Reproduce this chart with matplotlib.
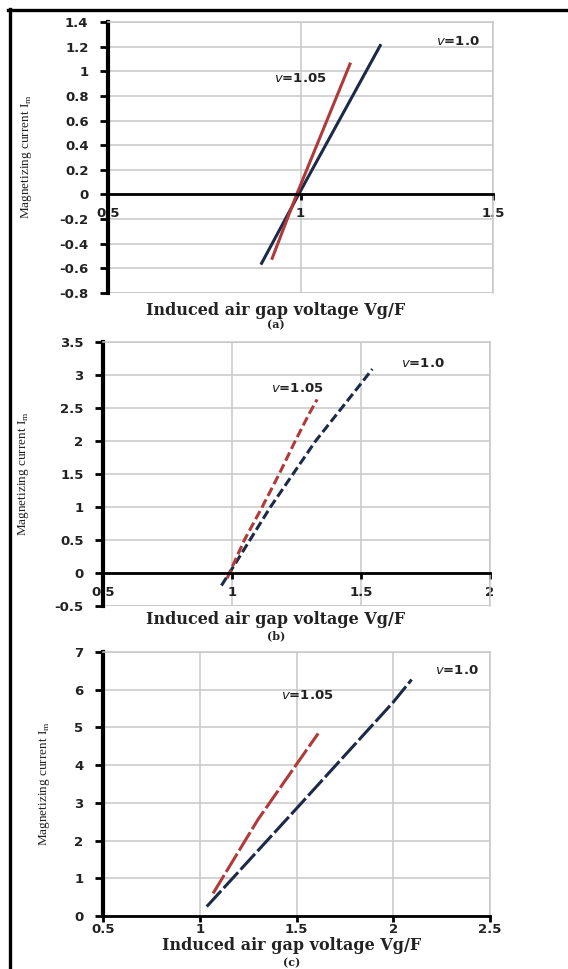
import matplotlib
matplotlib.use("Agg")
import matplotlib.pyplot as plt
from matplotlib.lines import Line2D
from matplotlib.ticker import FuncFormatter

# ---- data ----
# panel (a)
a_x_v100 = [0.897, 0.995, 1.209]
a_y_v100 = [-0.57, 0.00, 1.22]
a_x_v105 = [0.925, 0.990, 1.130]
a_y_v105 = [-0.53, 0.00, 1.07]
# panel (b)
b_x_v100 = [0.959, 0.990, 1.149, 1.324, 1.500, 1.544]
b_y_v100 = [-0.19, 0.00, 1.00, 2.00, 2.87, 3.09]
b_x_v105 = [0.981, 1.048, 1.117, 1.183, 1.245, 1.300, 1.330]
b_y_v105 = [-0.08, 0.50, 1.00, 1.50, 2.00, 2.42, 2.63]
# panel (c)
c_x_v100 = [1.036, 1.500, 2.000, 2.095]
c_y_v100 = [0.25, 2.85, 5.67, 6.27]
c_x_v105 = [1.069, 1.300, 1.497, 1.612]
c_y_v105 = [0.60, 2.55, 4.00, 4.84]

a_xticks = [0.5, 1.0, 1.5]
a_yticks = [-0.8, -0.6, -0.4, -0.2, 0, 0.2, 0.4, 0.6, 0.8, 1.0, 1.2, 1.4]
b_xticks = [0.5, 1.0, 1.5, 2.0]
b_yticks = [-0.5, 0, 0.5, 1.0, 1.5, 2.0, 2.5, 3.0, 3.5]
c_xticks = [0.5, 1.0, 1.5, 2.0, 2.5]
c_yticks = [0, 1, 2, 3, 4, 5, 6, 7]

label_v100 = r"$v$=1.0"
label_v105 = r"$v$=1.05"
xlabel_text = "Induced air gap voltage Vg/F"
ylabel_text = r"Magnetizing current I$_\mathregular{m}$"
panel_tags = ["(a)", "(b)", "(c)"]

BLUE = "#1c2a48"
RED = "#b03a3a"
GRID = "#c8c8c8"
TXT = "#222222"

W, H = 568, 969
fig = plt.figure(figsize=(W / 100, H / 100), dpi=100)

def fx(px):
    return px / W

def fy(py):
    return 1 - py / H

fmt = FuncFormatter(lambda v, p: "%g" % v)

panels = [
    dict(rect=(108, 22, 493, 293), xt=a_xticks, yt=a_yticks,
         s1=(a_x_v100, a_y_v100), s2=(a_x_v105, a_y_v105), ls="-",
         lab1=(1.41, 1.24), lab2=(0.999, 0.94), xpad=5,
         xl_y=310, tag_y=325, xl_x=276, yl=(27, 157)),
    dict(rect=(103, 342, 490, 606), xt=b_xticks, yt=b_yticks,
         s1=(b_x_v100, b_y_v100), s2=(b_x_v105, b_y_v105), ls=(0, (3, 1.3)),
         lab1=(1.74, 3.17), lab2=(1.254, 2.80), xpad=5,
         xl_y=619, tag_y=636, xl_x=276, yl=(24, 474)),
    dict(rect=(103, 652, 490, 916), xt=c_xticks, yt=c_yticks,
         s1=(c_x_v100, c_y_v100), s2=(c_x_v105, c_y_v105), ls=(0, (7, 1.2)),
         lab1=(2.33, 6.52), lab2=(1.554, 5.85), xpad=1,
         xl_y=945, tag_y=963, xl_x=292, yl=(45, 784)),
]

for i, p in enumerate(panels):
    l, t, r, b = p["rect"]
    ax = fig.add_axes([fx(l), fy(b), fx(r) - fx(l), fy(t) - fy(b)])
    ax.set_xlim(p["xt"][0], p["xt"][-1])
    ax.set_ylim(p["yt"][0], p["yt"][-1])
    ax.set_xticks(p["xt"])
    ax.set_yticks(p["yt"])
    ax.xaxis.set_major_formatter(fmt)
    ax.yaxis.set_major_formatter(fmt)
    ax.grid(True, color=GRID, lw=1.1)
    ax.set_axisbelow(True)
    for s in ("top", "right"):
        ax.spines[s].set_color(GRID)
        ax.spines[s].set_linewidth(1.1)
    ax.spines["left"].set_linewidth(3)
    ax.spines["left"].set_color("black")
    ax.spines["bottom"].set_position(("data", 0))
    ax.spines["bottom"].set_linewidth(2)
    ax.spines["bottom"].set_color("black")
    if p["yt"][0] < 0:
        ax.axhline(p["yt"][0], color=GRID, lw=1.1, zorder=0.5)
    ax.tick_params(axis="y", direction="out", length=6, width=2, color="black",
                   pad=8, labelsize=9.5, labelcolor=TXT)
    ax.tick_params(axis="x", direction="out", length=4, width=2, color="black",
                   pad=p["xpad"], labelsize=9.5, labelcolor=TXT)
    for lab in ax.get_xticklabels() + ax.get_yticklabels():
        lab.set_fontweight("bold")
    ax.plot(*p["s1"], color=BLUE, lw=2.2, ls=p["ls"], solid_capstyle="butt")
    ax.plot(*p["s2"], color=RED, lw=2.2, ls=p["ls"], solid_capstyle="butt")
    ax.text(*p["lab1"], label_v100, ha="center", va="center", fontsize=9.5,
            fontweight="bold", color=TXT)
    ax.text(*p["lab2"], label_v105, ha="center", va="center", fontsize=9.5,
            fontweight="bold", color=TXT)
    fig.text(fx(p["xl_x"]), fy(p["xl_y"]), xlabel_text, ha="center", va="center",
             fontsize=11.5, fontweight="bold", family="DejaVu Serif", color=TXT)
    fig.text(fx(p["xl_x"]), fy(p["tag_y"]), panel_tags[i], ha="center", va="center",
             fontsize=8, fontweight="bold", family="DejaVu Serif", color=TXT)
    fig.text(fx(p["yl"][0]), fy(p["yl"][1]), ylabel_text, ha="center", va="center",
             rotation=90, fontsize=9.5, family="Liberation Serif", color=TXT)

# page frame
fig.add_artist(Line2D([fx(8), fx(568)], [fy(10), fy(10)], color="black", lw=2.4,
                      transform=fig.transFigure))
fig.add_artist(Line2D([fx(10), fx(10)], [fy(9), fy(969)], color="black", lw=2.4,
                      transform=fig.transFigure))

fig.savefig("out.png", dpi=100)
